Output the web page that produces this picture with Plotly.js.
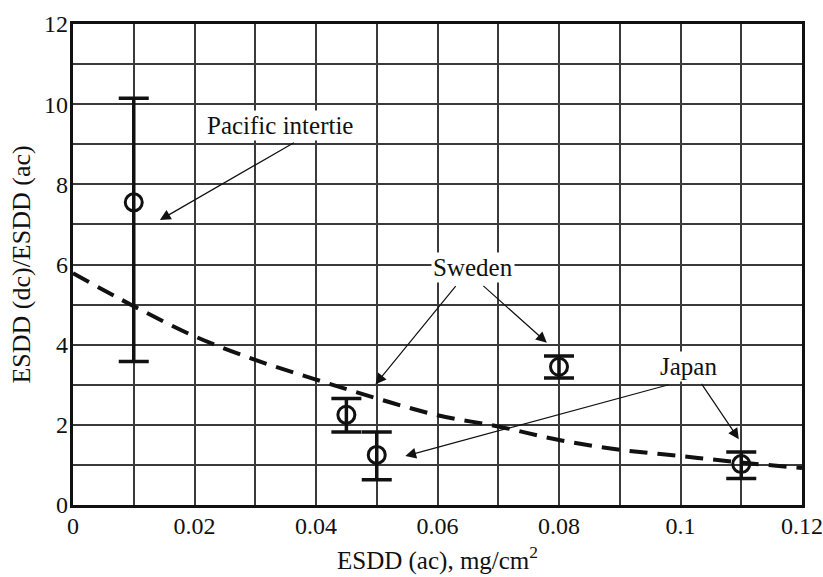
<!DOCTYPE html>
<html>
<head>
<meta charset="utf-8">
<script src="https://cdn.plot.ly/plotly-3.0.1.min.js"></script>
<style>html,body{margin:0;padding:0;background:#fff}#plot{width:823px;height:577px}</style>
</head>
<body>
<div id="plot"></div>
<script>
// Measured sites: ESDD (ac) and the ratio ESDD (dc)/ESDD (ac)
const siteX    = [0.01, 0.045, 0.05, 0.08, 0.11];
const siteY    = [7.55, 2.25, 1.25, 3.45, 1.02];
const siteHigh = [10.15, 2.66, 1.82, 3.72, 1.32];
const siteLow  = [3.58, 1.82, 0.63, 3.17, 0.66];

// Fitted trend (dashed)
const fitX = [0, 0.01, 0.02, 0.03, 0.04, 0.05, 0.06, 0.07, 0.08, 0.09, 0.10, 0.11, 0.12];
const fitY = [5.78, 4.96, 4.21, 3.62, 3.13, 2.66, 2.24, 1.96, 1.62, 1.38, 1.22, 1.06, 0.92];

// Labels and their pointer arrows (tail -> head)
const labelText = ["Pacific intertie", "Sweden", "Japan"];
const labelX    = [0.0341, 0.0659, 0.1013];
const labelY    = [9.48, 5.92, 3.46];
const arrowTailX = [0.0366, 0.0632, 0.0673, 0.1033, 0.0983];
const arrowTailY = [9.06, 5.50, 5.50, 3.06, 3.01];
const arrowHeadX = [0.0143, 0.0498, 0.0780, 0.1096, 0.0547];
const arrowHeadY = [7.11, 3.01, 4.05, 1.64, 1.22];

const xTitle = "ESDD (ac), mg/cm<sup>2</sup>";
const yTitle = "ESDD (dc)/ESDD (ac)";

const serif = "Liberation Serif, DejaVu Serif, serif";
const ink = "#111";

const traces = [
  {
    // trend line sits on the labelled axes pair
    x: fitX, y: fitY, xaxis: "x2", yaxis: "y2", type: "scatter", mode: "lines",
    line: {color: ink, width: 4, dash: "18px,10px", shape: "spline"},
    hoverinfo: "skip"
  },
  {
    x: siteX, y: siteY, type: "scatter", mode: "markers",
    marker: {symbol: "circle-open", size: 17, color: ink, line: {width: 3, color: ink}},
    error_y: {
      type: "data", symmetric: false,
      array: siteHigh.map((h, i) => h - siteY[i]),
      arrayminus: siteLow.map((l, i) => siteY[i] - l),
      color: ink, thickness: 3.5, width: 15
    }
  }
];

const annotations = labelText.map((t, i) => ({
  x: labelX[i], y: labelY[i], xref: "x", yref: "y", text: t, showarrow: false,
  font: {family: serif, size: 25, color: ink}, bgcolor: "#fff", borderpad: 1
})).concat(arrowHeadX.map((hx, i) => ({
  x: hx, y: arrowHeadY[i], ax: arrowTailX[i], ay: arrowTailY[i],
  xref: "x", yref: "y", axref: "x", ayref: "y", text: "",
  showarrow: true, arrowhead: 2, arrowsize: 1.8, arrowwidth: 1.2, arrowcolor: ink, standoff: 0
}))).concat([{
  // x-axis title, set a little lower than the margin allows for axis titles
  x: 0.5, y: 0, xref: "paper", yref: "paper", yshift: -53,
  xanchor: "center", yanchor: "middle", showarrow: false,
  text: xTitle, font: {family: serif, size: 25, color: ink}
}]);

// Grid axes: one line per 0.01 / per 1 unit, no labels
const gridAxis = (range, step) => ({
  range: range, dtick: step, tick0: 0, ticks: "", zeroline: false,
  showticklabels: false, showgrid: true, gridcolor: "#3a3a3a", gridwidth: 2,
  showline: true, linecolor: ink, linewidth: 3, mirror: true
});
// Labelled axes: numbers every 0.02 / every 2 units
const labelAxis = (range, step, ov) => ({
  range: range, dtick: step, tick0: 0, ticks: "", zeroline: false,
  showgrid: false, showline: false, overlaying: ov, ticklabelstandoff: 4,
  tickfont: {family: serif, size: 24, color: ink}
});

const layout = {
  width: 823, height: 577,
  margin: {l: 73, r: 21, t: 24, b: 72},
  paper_bgcolor: "#fff", plot_bgcolor: "#fff",
  showlegend: false,
  font: {family: serif, size: 24, color: ink},
  xaxis: gridAxis([0, 0.12], 0.01),
  yaxis: gridAxis([0, 12], 1),
  xaxis2: Object.assign(labelAxis([0, 0.12], 0.02, "x"), {anchor: "y2", side: "bottom"}),
  yaxis2: Object.assign(labelAxis([0, 12], 2, "y"), {
    anchor: "x2", side: "left",
    title: {text: yTitle, font: {family: serif, size: 26, color: ink}, standoff: 5}
  }),
  annotations: annotations
};

Plotly.newPlot("plot", traces, layout, {displayModeBar: false, staticPlot: true});
</script>
</body>
</html>
